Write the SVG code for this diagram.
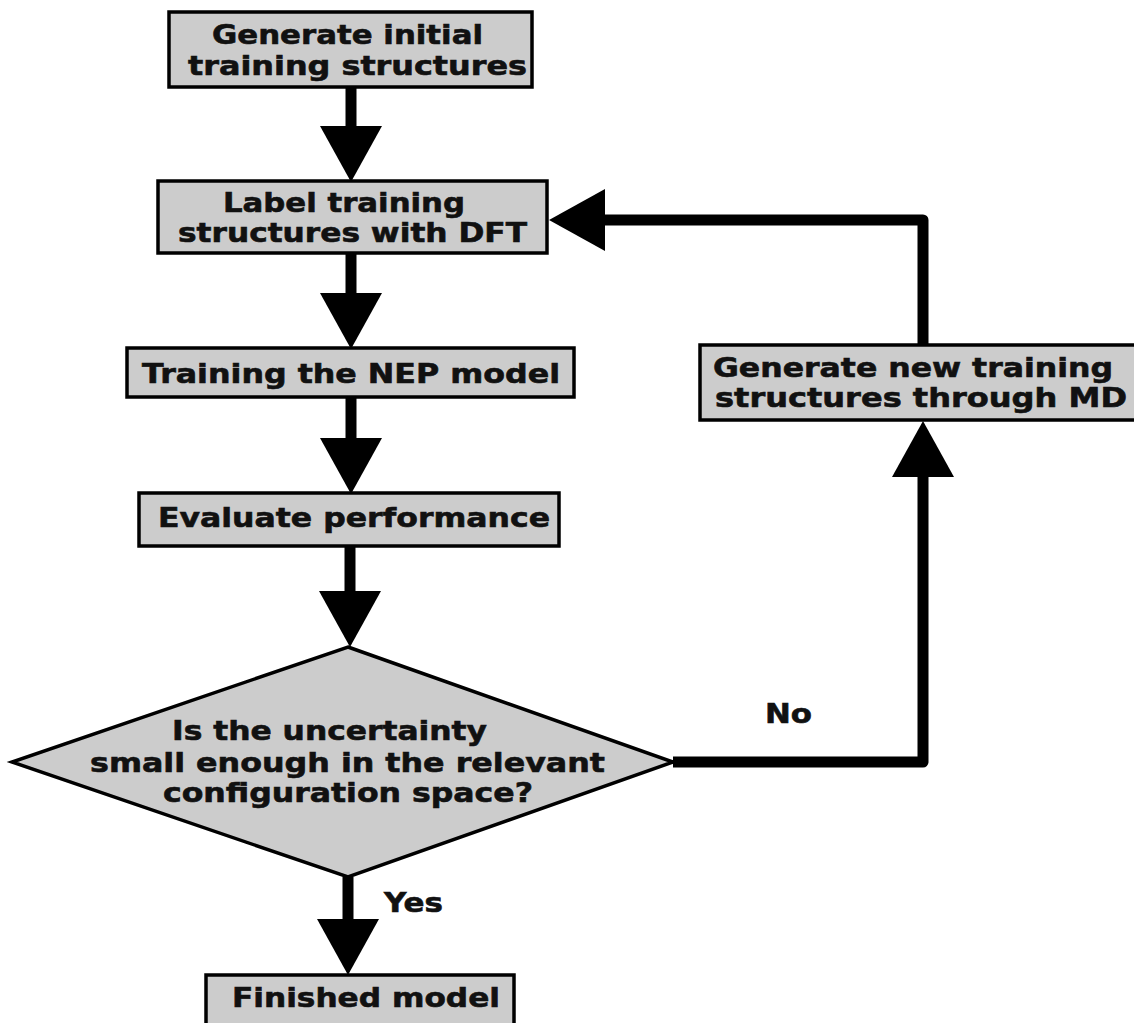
<svg xmlns="http://www.w3.org/2000/svg" width="1134" height="1023" viewBox="0 0 1134 1023">
  <style>
    .box { fill: #cccccc; stroke: #000; stroke-width: 3.5; }
    .lbl { font-family: "DejaVu Sans", "Verdana", sans-serif; font-weight: bold; font-size: 27px; fill: #111; stroke: #111; stroke-width: 0.6; }
    .edge { fill: none; stroke: #000; stroke-width: 11; stroke-linejoin: round; }
  </style>
  <defs>
    <marker id="ah" markerUnits="userSpaceOnUse" viewBox="0 0 56 62" markerWidth="56" markerHeight="62" refX="0" refY="31" orient="auto">
      <path d="M0,0 L56,31 L0,62 Z" fill="#000"/>
    </marker>
  </defs>
  <rect width="1134" height="1023" fill="#fff"/>

  <g id="connectors">
    <line class="edge" x1="351" y1="87" x2="351" y2="126" marker-end="url(#ah)"/>
    <line class="edge" x1="351" y1="253" x2="351" y2="293" marker-end="url(#ah)"/>
    <line class="edge" x1="351" y1="397" x2="351" y2="438" marker-end="url(#ah)"/>
    <line class="edge" x1="350" y1="546" x2="350" y2="591" marker-end="url(#ah)"/>
    <line class="edge" x1="348" y1="877" x2="348" y2="919" marker-end="url(#ah)"/>
    <polyline class="edge" points="673,762 923,762 923,477" marker-end="url(#ah)"/>
    <polyline class="edge" points="923,345 923,220 605,220" marker-end="url(#ah)"/>
    <text class="lbl" x="765" y="723" textLength="47" lengthAdjust="spacingAndGlyphs">No</text>
    <text class="lbl" x="384" y="912" textLength="59" lengthAdjust="spacingAndGlyphs">Yes</text>
  </g>

  <g id="node-generate-initial">
    <rect class="box" x="169" y="12" width="363" height="75"/>
    <text class="lbl" x="212" y="44" textLength="271" lengthAdjust="spacingAndGlyphs">Generate initial</text>
    <text class="lbl" x="188" y="75" textLength="339" lengthAdjust="spacingAndGlyphs">training structures</text>
  </g>

  <g id="node-label-dft">
    <rect class="box" x="158" y="181" width="389" height="72"/>
    <text class="lbl" x="223" y="212" textLength="242" lengthAdjust="spacingAndGlyphs">Label training</text>
    <text class="lbl" x="178" y="242" textLength="349" lengthAdjust="spacingAndGlyphs">structures with DFT</text>
  </g>

  <g id="node-train-nep">
    <rect class="box" x="127" y="348" width="447" height="49"/>
    <text class="lbl" x="142" y="383" textLength="418" lengthAdjust="spacingAndGlyphs">Training the NEP model</text>
  </g>

  <g id="node-evaluate">
    <rect class="box" x="139" y="493" width="420" height="53"/>
    <text class="lbl" x="158" y="527" textLength="392" lengthAdjust="spacingAndGlyphs">Evaluate performance</text>
  </g>

  <g id="node-decision">
    <polygon class="box" points="348,647 673,762 348,877 12,762" stroke-width="5"/>
    <text class="lbl" x="172" y="740" textLength="315" lengthAdjust="spacingAndGlyphs">Is the uncertainty</text>
    <text class="lbl" x="90" y="772" textLength="515" lengthAdjust="spacingAndGlyphs">small enough in the relevant</text>
    <text class="lbl" x="163" y="802" textLength="370" lengthAdjust="spacingAndGlyphs">configuration space?</text>
  </g>

  <g id="node-generate-md">
    <rect class="box" x="700" y="345" width="445" height="75"/>
    <text class="lbl" x="713" y="377" textLength="400" lengthAdjust="spacingAndGlyphs">Generate new training</text>
    <text class="lbl" x="715" y="407" textLength="412" lengthAdjust="spacingAndGlyphs">structures through MD</text>
  </g>

  <g id="node-finished">
    <rect class="box" x="206" y="975" width="308" height="60"/>
    <text class="lbl" x="232" y="1007" textLength="268" lengthAdjust="spacingAndGlyphs">Finished model</text>
  </g>
</svg>
